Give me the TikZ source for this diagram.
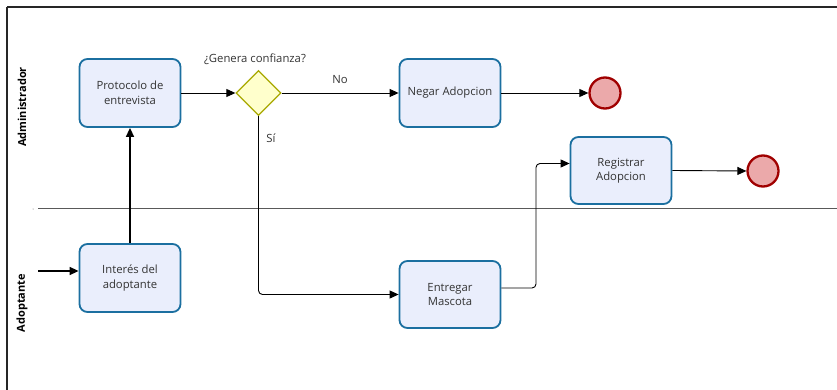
\documentclass[tikz,border=0pt]{standalone}
\usepackage{fontspec}
\setmainfont{Open Sans}
\usetikzlibrary{arrows.meta,shapes.geometric}
\definecolor{taskfill}{HTML}{EAEEFC}
\definecolor{taskdraw}{HTML}{1B6FA0}
\definecolor{gwfill}{HTML}{FFFFCC}
\definecolor{gwdraw}{HTML}{A8A800}
\definecolor{endfill}{HTML}{EBA9AA}
\definecolor{enddraw}{HTML}{A00000}
\definecolor{txt}{HTML}{333333}
\tikzset{
  task/.style={draw=taskdraw,fill=taskfill,line width=1.8pt,rounded corners=8pt,
    minimum width=101pt,minimum height=68pt,align=center,text=txt,
    font=\fontsize{11.3}{14.5}\selectfont,inner sep=0pt},
  gw/.style={diamond,draw=gwdraw,fill=gwfill,line width=1.3pt,minimum width=45pt,minimum height=45pt,inner sep=0pt},
  endev/.style={circle,draw=enddraw,fill=endfill,line width=2.3pt,minimum size=31pt,inner sep=0pt},
  flow/.style={draw=black,line width=0.9pt,-{Triangle[length=9pt,width=8pt]},rounded corners=4pt},
  lbl/.style={text=txt,font=\fontsize{11.3}{14}\selectfont,inner sep=0pt},
  lane/.style={font=\bfseries\fontsize{11}{13}\selectfont,text=black,rotate=90,inner sep=0pt}
}
\begin{document}
\begin{tikzpicture}[x=1pt,y=-1pt]
\useasboundingbox (0,0) rectangle (837,390);
% pool frame
\draw[line width=1.4pt,black!85] (7,7) -- (837,7);
\draw[line width=2pt,black!85] (7,7) -- (7,390);
\draw[line width=0.7pt,black!65] (38,208) -- (837,208);
\fill[black!60] (33,209) circle (0.5pt);
\node[lane] (laneA) at (22,107) {Administrador};
\node[lane] (laneB) at (22,303) {Adoptante};
% nodes
\node[task] (prot) at (130,93) {Protocolo de\\entrevista};
\node[gw] (gw) at (258.5,93) {};
\node[task] (neg) at (450,93) {Negar Adopcion};
\node[endev] (e1) at (605,93) {};
\node[task,minimum height=67pt] (reg) at (621,170.5) {Registrar\\Adopcion};
\node[endev] (e2) at (763,171) {};
\node[task] (int) at (130,278) {Interés del\\adoptante};
\node[task,minimum height=67pt] (ent) at (450,294.5) {Entregar\\Mascota};
\coordinate (start) at (38,271);
\coordinate (bend) at (536,288);
% labels
\node[lbl] (qlbl) at (255,59) {¿Genera confianza?};
\node[lbl] (nolbl) at (340,80) {No};
\node[lbl] (silbl) at (271,138) {Sí};
% flows
\draw[flow,line width=1.6pt] (start) -- (start -| int.west);
\draw[flow,line width=1.6pt] (int.north) -- (prot.south);
\draw[flow] (prot.east) -- (gw.west);
\draw[flow] (gw.east) -- (neg.west);
\draw[flow] (neg.east) -- (e1.west);
\draw[flow] (gw.south) |- (ent.west);
\draw[flow] (bend -| ent.east) -- (bend) |- ([yshift=7pt]reg.west);
\draw[flow] (reg.east) -- (e2.west);
\end{tikzpicture}
\end{document}
